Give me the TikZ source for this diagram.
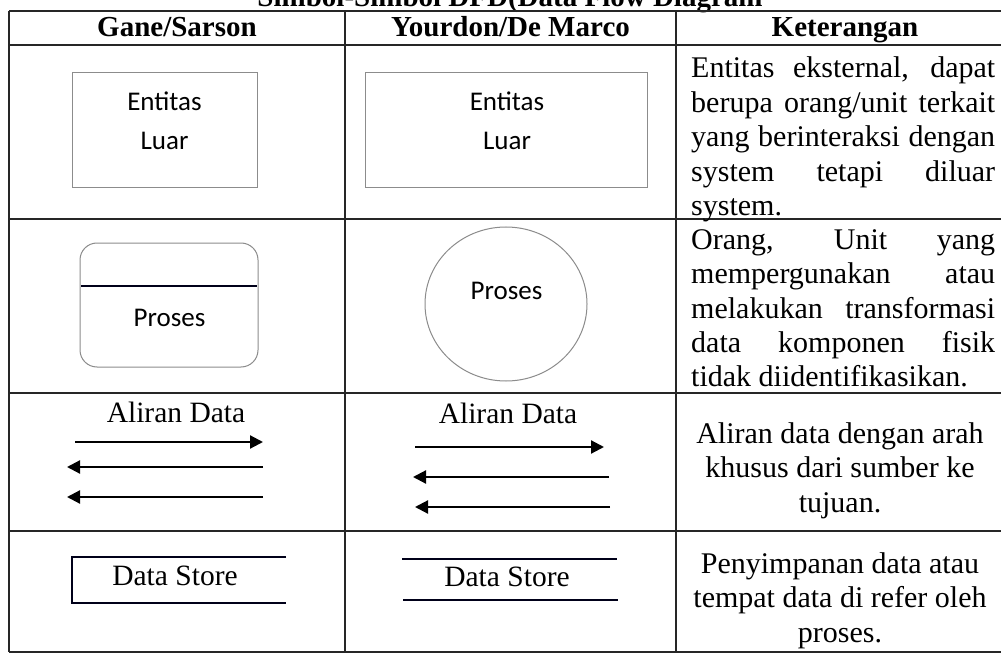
\documentclass[tikz,border=0pt]{standalone}
\usepackage{fontspec}
\setmainfont{Liberation Serif}
\newfontfamily\calibri{Carlito}
\usetikzlibrary{arrows.meta}

% one line of a justified paragraph, stretched to the full width
\newcommand\fullline[1]{\makebox[\linewidth][s]{#1}\par}

\begin{document}
\begin{tikzpicture}[x=1pt,y=-1pt,
  tablerule/.style={line width=1.7pt, draw=black!85},
  shapeline/.style={line width=1pt, draw=black!45},
  symline/.style={line width=1.8pt, draw=black!90!blue},
  flowarrow/.style={line width=2.2pt, draw=black, -{Triangle[length=13pt,width=13pt]}},
  colhead/.style={font=\fontsize{29}{33}\selectfont\bfseries, anchor=base, inner sep=0pt},
  symtext/.style={font=\fontsize{27}{38.5}\selectfont\calibri, anchor=base, inner sep=0pt},
  serifsym/.style={font=\fontsize{29.5}{34}\selectfont, anchor=base, inner sep=0pt},
  notetext/.style={font=\fontsize{30}{34.5}\selectfont, anchor=base, inner sep=0pt},
]
\useasboundingbox (0,0) rectangle (1001,655);
\fill[white] (0,0) rectangle (1001,655);
\begin{scope}
\clip (0,0) rectangle (1001,655);

% caption above the table
\node[colhead] (title) at (510,7) {Simbol-Simbol DFD(Data Flow Diagram};

% table rules
\draw[tablerule] (9,11) -- (1010,11);
\draw[tablerule] (9,45) -- (1010,45);
\draw[tablerule] (9,219) -- (1010,219);
\draw[tablerule] (9,393) -- (1010,393);
\draw[tablerule] (9,531) -- (1010,531);
\draw[tablerule] (9,652) -- (1010,652);
\draw[tablerule] (9,11) -- (9,652);
\draw[tablerule] (345,11) -- (345,652);
\draw[tablerule] (676,11) -- (676,652);

% column headings
\node[colhead] (h1) at (177,37) {Gane/Sarson};
\node[colhead] (h2) at (510.5,37) {Yourdon/De Marco};
\node[colhead] (h3) at (845,37) {Keterangan};

% external entity
\draw[shapeline] (72,73) rectangle (257,188);
\node[symtext] (ent1) at (164.5,111) {\parbox[t]{180pt}{\centering Entitas\\Luar}};
\draw[shapeline] (365,73) rectangle (647,188);
\node[symtext] (ent2) at (507,111) {\parbox[t]{180pt}{\centering Entitas\\Luar}};

% process
\draw[shapeline, rounded corners=17pt] (80,243) rectangle (258,367);
\draw[symline] (81,286) -- (257,286);
\node[symtext] (proc1) at (169.5,326) {Proses};
\draw[shapeline] (506,304) ellipse [x radius=81, y radius=77];
\node[symtext] (proc2) at (506.5,299) {Proses};

% data flow
\node[serifsym] (flow1) at (176,422) {Aliran Data};
\coordinate (fa1) at (75,442);  \coordinate (fb1) at (263,442);
\coordinate (fa2) at (263,467); \coordinate (fb2) at (67,467);
\coordinate (fa3) at (263,497); \coordinate (fb3) at (67,497);
\draw[flowarrow] (fa1) -- (fb1);
\draw[flowarrow] (fa2) -- (fb2);
\draw[flowarrow] (fa3) -- (fb3);

\node[serifsym] (flow2) at (508,423) {Aliran Data};
\coordinate (ga1) at (415,447); \coordinate (gb1) at (604,447);
\coordinate (ga2) at (609,477); \coordinate (gb2) at (413,477);
\coordinate (ga3) at (610,507); \coordinate (gb3) at (415,507);
\draw[flowarrow] (ga1) -- (gb1);
\draw[flowarrow] (ga2) -- (gb2);
\draw[flowarrow] (ga3) -- (gb3);

% data store
\draw[symline] (286,557) -- (72,557) -- (72,603) -- (286,603);
\node[serifsym] (store1) at (175,585) {Data Store};
\draw[symline] (402,559) -- (617,559);
\draw[symline] (403,600) -- (618,600);
\node[serifsym] (store2) at (507,586) {Data Store};

% descriptions
\node[notetext, anchor=base west] (k1) at (691,78) {\parbox[t]{304pt}{%
  \fullline{Entitas eksternal, dapat}%
  \fullline{berupa orang/unit terkait}%
  \fullline{yang berinteraksi dengan}%
  \fullline{system tetapi diluar}%
  system.}};
\node[notetext, anchor=base west] (k2) at (691,249) {\parbox[t]{304pt}{%
  \fullline{Orang, Unit yang}%
  \fullline{mempergunakan atau}%
  \fullline{melakukan transformasi}%
  \fullline{data komponen fisik}%
  tidak diidentifikasikan.}};
\node[notetext] (k3) at (840,443) {\parbox[t]{320pt}{\centering
  Aliran data dengan arah\\khusus dari sumber ke\\tujuan.}};
\node[notetext] (k4) at (840,573) {\parbox[t]{320pt}{\centering
  Penyimpanan data atau\\tempat data di refer oleh\\proses.}};
\end{scope}
\end{tikzpicture}
\end{document}
